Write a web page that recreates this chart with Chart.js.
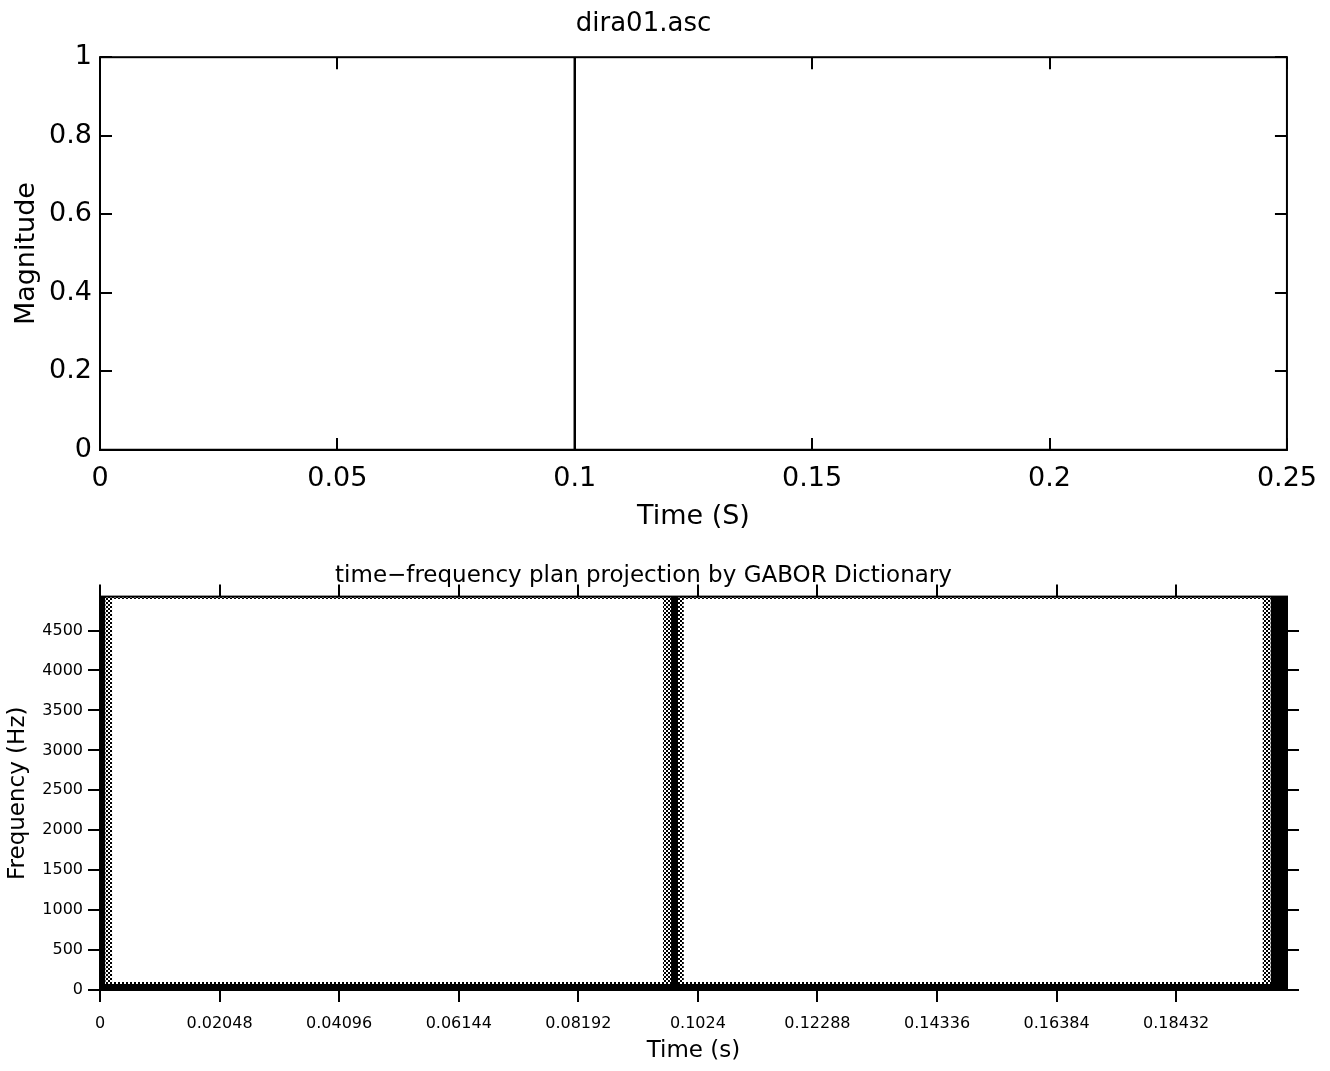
<!DOCTYPE html>
<html>
<head>
<meta charset="utf-8">
<script src="https://cdn.jsdelivr.net/npm/chart.js@4"></script>
<style>
  body { margin: 0; background: #fff; }
  .box { position: absolute; left: 0; width: 1330px; }
</style>
</head>
<body>
<div class="box" style="top:0;height:540px"><canvas id="sig" width="1330" height="540"></canvas></div>
<div class="box" style="top:540px;height:531px"><canvas id="tf" width="1330" height="531"></canvas></div>
<script>
// top plot: dira01.asc (dirac at 0.1 s)
const sigTime = [0, 0.1, 0.1, 0.1, 0.25];
const sigMag = [0, 0, 1, 0, 0];
const timeTicks = [0, 0.05, 0.1, 0.15, 0.2, 0.25];
const timeLabels = ['0', '0.05', '0.1', '0.15', '0.2', '0.25'];
const magTicks = [0, 0.2, 0.4, 0.6, 0.8, 1];
const magLabels = ['0', '0.2', '0.4', '0.6', '0.8', '1'];

// bottom plot: energy regions of the time-frequency plane
const tfTicks = [0, 0.02048, 0.04096, 0.06144, 0.08192, 0.1024, 0.12288, 0.14336, 0.16384, 0.18432];
const tfLabels = ['0', '0.02048', '0.04096', '0.06144', '0.08192', '0.1024', '0.12288', '0.14336', '0.16384', '0.18432'];
const freqTicks = [0, 500, 1000, 1500, 2000, 2500, 3000, 3500, 4000, 4500];
const tMax = 0.2033;
const fMax = 4925;
const cellT0 = [0, 0, 0.0978, 0.2005, 0, 0.0009, 0.0964, 0.1991, 0];
const cellT1 = [0.2033, 0.0009, 0.0990, 0.2033, 0.2033, 0.0021, 0.1000, 0.2005, 0.2033];
const cellF0 = [0, 0, 0, 0, 75, 0, 0, 0, 4895];
const cellF1 = [75, 4925, 4925, 4925, 100, 4925, 4925, 4925, 4925];
const cellShade = ['solid', 'solid', 'solid', 'solid', 'dither', 'dither', 'dither', 'dither', 'dither'];

const FONT = "'DejaVu Sans', 'Liberation Sans', sans-serif";

function makeDither() {
    const c = document.createElement('canvas');
    c.width = 4; c.height = 4;
    const g = c.getContext('2d');
    g.fillStyle = '#fff';
    g.fillRect(0, 0, 4, 4);
    g.fillStyle = '#000';
    g.fillRect(0, 0, 2, 2);
    g.fillRect(2, 2, 2, 2);
    return g.createPattern(c, 'repeat');
}
const dither = makeDither();

// box round the plot with tick marks on all four sides
const frame = {
    id: 'frame',
    afterDraw(chart, args, opts) {
        const { ctx, chartArea: a } = chart;
        const x = chart.scales.x, y = chart.scales.y;
        const d = opts.len * opts.dir;
        ctx.save();
        ctx.strokeStyle = '#000';
        ctx.lineWidth = 2;
        ctx.strokeRect(a.left, a.top, a.right - a.left, a.bottom - a.top);
        ctx.beginPath();
        x.ticks.forEach(t => {
            const px = Math.round(x.getPixelForValue(t.value));
            ctx.moveTo(px, a.bottom); ctx.lineTo(px, a.bottom - d);
            ctx.moveTo(px, a.top); ctx.lineTo(px, a.top + d);
        });
        y.ticks.forEach(t => {
            const py = Math.round(y.getPixelForValue(t.value));
            ctx.moveTo(a.left, py); ctx.lineTo(a.left + d, py);
            ctx.moveTo(a.right, py); ctx.lineTo(a.right - d, py);
        });
        ctx.stroke();
        ctx.restore();
    }
};

function axis(o) {
    return {
        type: 'linear',
        min: o.min, max: o.max,
        grid: { display: false, drawTicks: false },
        border: { display: false },
        afterBuildTicks: s => { s.ticks = o.ticks.map(v => ({ value: v })); },
        afterFit: s => { if (o.width) s.width = o.width; if (o.height) s.height = o.height; },
        ticks: {
            color: '#000', padding: o.pad, maxRotation: 0, autoSkip: false,
            font: { family: FONT, size: o.fs },
            callback: (v, i) => o.labels[i]
        },
        title: {
            display: true, text: o.title, color: '#000',
            font: { family: FONT, size: o.ts },
            padding: o.tpad
        }
    };
}

new Chart(document.getElementById('sig').getContext('2d'), {
    type: 'line',
    data: {
        datasets: [{
            data: sigTime.map((t, i) => ({ x: t, y: sigMag[i] })),
            borderColor: '#000', borderWidth: 2.5, pointRadius: 0, tension: 0, fill: false
        }]
    },
    options: {
        responsive: false, animation: false, devicePixelRatio: 1,
        layout: { padding: { left: 0, right: 43, top: 0, bottom: 0 } },
        plugins: {
            legend: { display: false }, tooltip: { enabled: false },
            title: { display: true, text: 'dira01.asc', color: '#000', font: { family: FONT, size: 26, weight: 'normal' }, padding: { top: 9, bottom: 17 } },
            frame: { len: 12, dir: 1 }
        },
        scales: {
            x: axis({ min: 0, max: 0.25, ticks: timeTicks, labels: timeLabels, fs: 27, pad: 13, height: 90, title: 'Time (S)', ts: 27, tpad: { top: 0, bottom: 7 } }),
            y: axis({ min: 0, max: 1, ticks: magTicks, labels: magLabels, fs: 27, pad: 8, width: 100, title: 'Magnitude', ts: 27, tpad: { top: 11, bottom: 0 } })
        }
    },
    plugins: [frame]
});

new Chart(document.getElementById('tf').getContext('2d'), {
    type: 'line',
    data: {
        datasets: cellT0.map((t0, i) => ({
            data: [{ x: t0, y: cellF1[i] }, { x: cellT1[i], y: cellF1[i] }],
            fill: { value: cellF0[i] },
            backgroundColor: cellShade[i] === 'solid' ? '#000' : dither,
            borderWidth: 0, pointRadius: 0, tension: 0,
            order: cellShade[i] === 'solid' ? 1 : 2
        }))
    },
    options: {
        responsive: false, animation: false, devicePixelRatio: 1,
        layout: { padding: { left: 0, right: 43, top: 0, bottom: 0 } },
        plugins: {
            legend: { display: false }, tooltip: { enabled: false },
            title: { display: true, text: 'time\u2212frequency plan projection by GABOR Dictionary', color: '#000', font: { family: FONT, size: 23, weight: 'normal' }, padding: { top: 22, bottom: 7 } },
            frame: { len: 12, dir: -1 }
        },
        scales: {
            x: axis({ min: 0, max: tMax, ticks: tfTicks, labels: tfLabels, fs: 16, pad: 24, height: 81, title: 'Time (s)', ts: 23, tpad: { top: 0, bottom: 6 } }),
            y: axis({ min: 0, max: fMax, ticks: freqTicks, labels: freqTicks.map(String), fs: 16, pad: 17, width: 100, title: 'Frequency (Hz)', ts: 23, tpad: { top: 4, bottom: 0 } })
        }
    },
    plugins: [frame]
});
</script>
</body>
</html>
